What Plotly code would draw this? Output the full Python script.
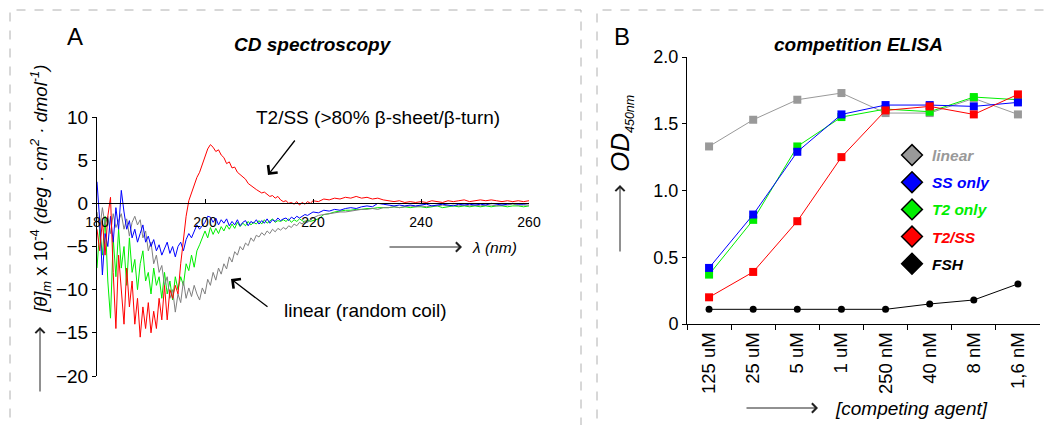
import plotly.graph_objects as go

FW, FH = 1045, 425


def px(x):
    return x / FW


def py(y):
    return 1 - y / FH


# ---------------- Panel A: CD spectra ----------------
wavelength = [
    180.0, 180.5, 181.0, 181.5, 182.0, 182.5, 183.0, 183.5, 184.0, 184.5,
    185.0, 185.5, 186.0, 186.5, 187.0, 187.5, 188.0, 188.5, 189.0, 189.5,
    190.0, 190.5, 191.0, 191.5, 192.0, 192.5, 193.0, 193.5, 194.0, 194.5,
    195.0, 195.5, 196.0, 196.5, 197.0, 197.5, 198.0, 198.5, 199.0, 199.5,
    200.0, 200.5, 201.0, 201.5, 202.0, 202.5, 203.0, 203.5, 204.0, 204.5,
    205.0, 205.5, 206.0, 206.5, 207.0, 207.5, 208.0, 208.5, 209.0, 209.5,
    210.0, 210.5, 211.0, 211.5, 212.0, 212.5, 213.0, 213.5, 214.0, 214.5,
    215.0, 215.5, 216.0, 216.5, 217.0, 217.5, 218.0, 218.5, 219.0, 219.5,
    220, 221, 222, 223, 224, 225, 226, 227, 228, 229,
    230, 231, 232, 233, 234, 235, 236, 237, 238, 239,
    240, 241, 242, 243, 244, 245, 246, 247, 248, 249,
    250, 251, 252, 253, 254, 255, 256, 257, 258, 259,
    260,
]

cd_t2ss = [
    -3.0, -5.5, -2.0, -6.0, -1.5, 0.7, -8.0, -14.5, -6.0, -10.0,
    -14.0, -7.5, -12.0, -9.0, -14.0, -11.0, -15.5, -12.0, -14.5, -11.5,
    -15.0, -12.5, -14.5, -11.0, -13.5, -9.5, -13.5, -10.0, -11.0, -9.5,
    -10.5, -7.0, -4.5, -1.5, 0.3, 1.2, 2.0, 3.0, 3.6, 4.5,
    5.5, 6.3, 6.8, 6.5, 6.0, 6.2, 5.6, 5.3, 4.6, 4.8,
    4.1, 4.2, 3.6, 3.3, 3.0, 2.8, 2.3, 2.1, 1.8, 1.6,
    1.4, 1.2, 1.3, 1.0, 0.8, 0.9, 0.6, 0.8, 0.4, 0.2,
    0.3, 0.0, 0.1, -0.1, 0.2, -0.2, 0.1, -0.1, 0.2, 0.0,
    0.3, 0.2, 0.5, 0.4, 0.6, 0.5, 0.7, 0.6, 0.8, 0.6,
    0.7, 0.5, 0.6, 0.4, 0.3, 0.2, 0.3, 0.1, 0.2, 0.1,
    0.2, 0.1, 0.3, 0.2, 0.1, 0.3, 0.2, 0.3, 0.4, 0.2,
    0.3, 0.4, 0.3, 0.4, 0.3, 0.2, 0.3, 0.2, 0.3, 0.2,
    0.3,
]

cd_ss_only = [
    2.5, -2.0, -8.3, -3.5, -5.0, -1.5, -4.5, -0.5, -3.0, 1.5,
    -1.0, -3.0, -2.0, -4.0, -3.0, -4.5, -3.5, -2.5, -4.5, -3.8,
    -5.0, -4.2, -5.5, -4.8, -6.0, -5.2, -4.5, -5.8, -5.0, -6.2,
    -5.0, -4.5, -5.5, -4.2, -3.5, -4.0, -3.2, -2.5, -3.0, -2.6,
    -2.2, -1.5, -1.6, -2.2, -1.7, -2.5, -1.9, -2.3, -1.8, -2.6,
    -2.1, -2.5, -1.9, -2.6, -2.2, -2.0, -2.6, -2.1, -2.3, -1.9,
    -2.4, -2.0, -2.3, -1.8, -2.3, -1.9, -2.1, -1.7, -2.0, -1.8,
    -1.7, -2.0, -1.6, -1.8, -1.5, -1.7, -1.5, -1.3, -1.4, -1.2,
    -1.0, -1.1, -0.8, -0.9, -0.7, -0.8, -0.6, -0.5, -0.6, -0.4,
    -0.3, -0.4, 0.0, -0.1, -0.2, -0.3, -0.2, -0.3, -0.2, -0.3,
    -0.2, -0.1, -0.3, -0.2, -0.1, -0.2, -0.3, -0.1, -0.2, -0.1,
    -0.2, -0.1, -0.2, 0.0, -0.1, -0.2, -0.1, 0.0, -0.1, -0.1,
    0.0,
]

cd_t2_only = [
    -7.5, -3.0, -6.0, -1.5, -9.0, -13.3, -4.0, -8.5, -3.0, -7.5,
    -5.0, -9.5, -4.0, -8.0, -6.5, -10.0, -7.0, -5.5, -9.0, -8.0,
    -10.5, -7.5, -9.5, -8.5, -11.0, -8.0, -10.5, -9.0, -11.2, -8.5,
    -10.0, -8.5, -9.5, -7.0, -7.8, -6.0, -7.4, -5.5, -4.8, -4.0,
    -3.2, -4.0, -2.8, -3.6, -2.9, -3.5, -2.7, -3.2, -2.5, -3.0,
    -2.4, -2.9, -2.2, -2.7, -2.3, -2.6, -2.1, -2.5, -2.2, -2.4,
    -2.0, -2.4, -1.9, -2.3, -2.1, -1.8, -2.2, -2.0, -2.1, -1.9,
    -2.1, -1.8, -2.2, -1.9, -2.1, -1.8, -2.0, -2.2, -1.9, -2.1,
    -2.0, -1.8, -1.3, -1.2, -1.0, -0.9, -0.8, -0.8, -0.7, -0.7,
    -0.6, -0.6, -0.5, -0.5, -0.5, -0.4, -0.5, -0.4, -0.5, -0.4,
    -0.4, -0.5, -0.4, -0.3, -0.5, -0.4, -0.3, -0.4, -0.3, -0.4,
    -0.3, -0.4, -0.3, -0.4, -0.3, -0.3, -0.4, -0.3, -0.3, -0.4,
    -0.3,
]

cd_linear = [
    -1.0, -3.0, -0.5, -2.5, -1.5, -3.5, -1.2, -2.8, -2.0, -1.2,
    -3.0, -1.8, -3.8, -2.2, -1.5, -2.5, -1.9, -4.0, -3.2, -5.5,
    -4.5, -7.0, -6.0, -8.0, -7.2, -9.5, -8.5, -11.0, -10.0, -12.6,
    -10.5, -11.5, -9.0, -11.0, -9.8, -10.8, -9.5, -10.5, -11.2, -9.8,
    -10.5, -8.8, -9.5, -8.0, -8.9, -7.5, -8.2, -7.0, -7.6, -6.2,
    -6.8, -5.6, -6.0, -5.0, -5.4, -4.6, -4.9, -4.0, -4.4, -3.7,
    -3.9, -3.4, -3.7, -3.2, -3.5, -3.0, -3.3, -2.9, -3.1, -2.8,
    -3.0, -2.6, -2.8, -2.4, -2.6, -2.2, -2.4, -2.0, -2.2, -1.9,
    -1.7, -1.4, -1.3, -1.2, -1.1, -1.0, -1.0, -0.9, -0.8, -0.7,
    -0.7, -0.6, -0.7, -0.5, -0.5, -0.4, -0.5, -0.4, -0.3, -0.4,
    -0.3, -0.4, -0.3, -0.3, -0.2, -0.3, -0.2, -0.3, -0.2, -0.3,
    -0.2, -0.3, -0.2, -0.2, -0.3, -0.2, -0.2, -0.1, -0.2, -0.2,
    -0.2,
]

cd_xticks = [180, 200, 220, 240, 260]
cd_yticks = [10, 5, 0, -5, -10, -15, -20]

# ---------------- Panel B: competition ELISA ----------------
concentrations = ["125 uM", "25 uM", "5 uM", "1 uM", "250 nM", "40 nM", "8 nM", "1,6 nM"]
od_linear = [1.33, 1.53, 1.68, 1.73, 1.58, 1.58, 1.69, 1.57]
od_ss_only = [0.42, 0.82, 1.29, 1.57, 1.64, 1.64, 1.63, 1.66]
od_t2_only = [0.37, 0.78, 1.33, 1.55, 1.61, 1.59, 1.70, 1.68]
od_t2ss = [0.20, 0.39, 0.77, 1.25, 1.60, 1.63, 1.57, 1.72]
od_fsh = [0.11, 0.11, 0.11, 0.11, 0.11, 0.15, 0.18, 0.30]
od_yticks = [0, 0.5, 1.0, 1.5, 2.0]
od_yticktext = ["0", "0.5", "1.0", "1.5", "2.0"]

GRAY, BLUE, GREEN, RED, BLACK = "#999999", "#0000ff", "#00ee00", "#ff0000", "#000000"
FONT = "Arial, Liberation Sans, sans-serif"

fig = go.Figure()

# Panel A traces
for vals, col in [(cd_t2_only, GREEN), (cd_linear, "#7f7f7f"), (cd_ss_only, BLUE), (cd_t2ss, RED)]:
    fig.add_trace(go.Scatter(x=wavelength, y=vals, mode="lines",
                             line=dict(color=col, width=1), showlegend=False,
                             xaxis="x", yaxis="y"))

# Panel B traces
for vals, col in [(od_linear, GRAY), (od_t2_only, GREEN), (od_ss_only, BLUE), (od_t2ss, RED)]:
    fig.add_trace(go.Scatter(x=concentrations, y=vals, mode="lines+markers",
                             line=dict(color=col, width=1),
                             marker=dict(symbol="square", size=8, color=col),
                             showlegend=False, xaxis="x2", yaxis="y2"))
fig.add_trace(go.Scatter(x=concentrations, y=od_fsh, mode="lines+markers",
                         line=dict(color=BLACK, width=1),
                         marker=dict(symbol="circle", size=7, color=BLACK),
                         showlegend=False, xaxis="x2", yaxis="y2"))

# Legend entries (diamonds)
legend_items = [("linear", GRAY), ("SS only", BLUE), ("T2 only", GREEN),
                ("T2/SS", RED), ("FSH", BLACK)]
for i, (name, col) in enumerate(legend_items):
    fig.add_trace(go.Scatter(x=[None], y=[None], mode="markers",
                             marker=dict(symbol="diamond", size=16, color=col,
                                         line=dict(color="black", width=1.5)),
                             name=f"<span style='color:{col}'><b><i>{name}</i></b></span>",
                             legendgroup=f"g{i}", showlegend=True,
                             xaxis="x2", yaxis="y2"))

# Geometry (pixels)
A_x0, A_x1 = 97, 529
A_ytop, A_ybot = 117, 376
B_x0, B_x1 = 687, 1040
B_ytop, B_ybot = 57, 324

a_ydom = [py(A_ybot), py(A_ytop)]
zero_pos = a_ydom[0] + (0 - (-20)) / 30 * (a_ydom[1] - a_ydom[0])

base_axis = dict(showgrid=False, zeroline=False, showline=True, linecolor="black",
                 linewidth=1, tickcolor="black", tickwidth=1)

fig.update_layout(
    width=FW, height=FH, autosize=False,
    margin=dict(l=0, r=0, t=0, b=0, pad=0, autoexpand=False),
    paper_bgcolor="white", plot_bgcolor="rgba(0,0,0,0)",
    font=dict(family=FONT, color="black"),
    xaxis=dict(domain=[px(A_x0), px(A_x1)], range=[180, 260], anchor="free",
               position=zero_pos, tickvals=cd_xticks, ticks="inside", ticklen=4,
               ticklabelstandoff=6, tickfont=dict(family=FONT, size=14, color="black"),
               **base_axis),
    yaxis=dict(domain=a_ydom, range=[-20, 10], anchor="x", tickvals=cd_yticks,
               ticks="outside", ticklen=4,
               tickfont=dict(family=FONT, size=19, color="black"), **base_axis),
    xaxis2=dict(domain=[px(B_x0), px(B_x1)], range=[-0.5, 7.5], anchor="y2",
                type="category", tickson="boundaries", ticks="outside", ticklen=5,
                tickangle=-90, tickfont=dict(family=FONT, size=18.5, color="black"),
                **base_axis),
    yaxis2=dict(domain=[py(B_ybot), py(B_ytop)], range=[0, 2.0], anchor="x2",
                tickvals=od_yticks, ticktext=od_yticktext, ticks="outside", ticklen=4,
                tickfont=dict(family=FONT, size=18, color="black"), **base_axis),
    legend=dict(x=px(892), y=py(138.5), xanchor="left", yanchor="top",
                bgcolor="rgba(0,0,0,0)", tracegroupgap=4,
                font=dict(family=FONT, size=15.5)),
    showlegend=True,
)

shapes = [
    dict(type="rect", xref="paper", yref="paper", x0=px(10), x1=px(581), y0=-0.1, y1=py(10),
         line=dict(color="#b0b0b0", width=1, dash="dash")),
    dict(type="rect", xref="paper", yref="paper", x0=px(597), x1=1.1, y0=-0.1, y1=py(10),
         line=dict(color="#b0b0b0", width=1, dash="dash")),
]
fig.update_layout(shapes=shapes)


def text_ann(x, y, text, size, angle=0, xanchor="center", color="black"):
    return dict(xref="paper", yref="paper", x=px(x), y=py(y), text=text, showarrow=False,
                textangle=angle, xanchor=xanchor, yanchor="middle",
                font=dict(family=FONT, size=size, color=color))


def arrow_ann(hx, hy, tx, ty, color="black", width=1.3):
    return dict(xref="paper", yref="paper", x=px(hx), y=py(hy), ax=tx - hx, ay=ty - hy,
                axref="pixel", ayref="pixel", text="", showarrow=True, arrowhead=4,
                arrowsize=1.8, arrowwidth=width, arrowcolor=color)


annotations = [
    text_ann(75, 36, "A", 24),
    text_ann(313, 45, "<b><i>CD spectroscopy</i></b>", 19),
    text_ann(378, 118, "T2/SS (>80% β-sheet/β-turn)", 19),
    arrow_ann(268, 175, 296, 139),
    text_ann(365, 310, "linear (random coil)", 19),
    arrow_ann(231, 279, 269, 308),
    arrow_ann(462, 247, 388, 247, color="#222222", width=1),
    text_ann(470, 247, "<i>λ (nm)</i>", 15.5, xanchor="left"),
    text_ann(40, 189, "<i>[θ]<sub>m</sub></i> x 10<sup>-4</sup> <i>(deg · cm<sup>2</sup> · dmol<sup>-1</sup>)</i>",
             18.5, angle=-90),
    arrow_ann(40, 327, 40, 393, color="#222222", width=1),
    text_ann(622, 36, "B", 24),
    text_ann(858, 45, "<b><i>competition ELISA</i></b>", 19),
    text_ann(621, 134, "<i>OD<sub><span style='font-size:12.5px'>450nm</span></sub></i>", 26, angle=-90),
    arrow_ann(620, 185, 620, 253, color="#222222", width=1),
    arrow_ann(818, 408, 745, 408, color="#222222", width=1),
    text_ann(833, 408, "<i>[competing agent]</i>", 19, xanchor="left"),
]
fig.update_layout(annotations=annotations)

fig.write_html(
    "out.html",
    config={"displayModeBar": False},
    post_script="document.body.style.margin='0';document.body.style.overflow='hidden';",
)
